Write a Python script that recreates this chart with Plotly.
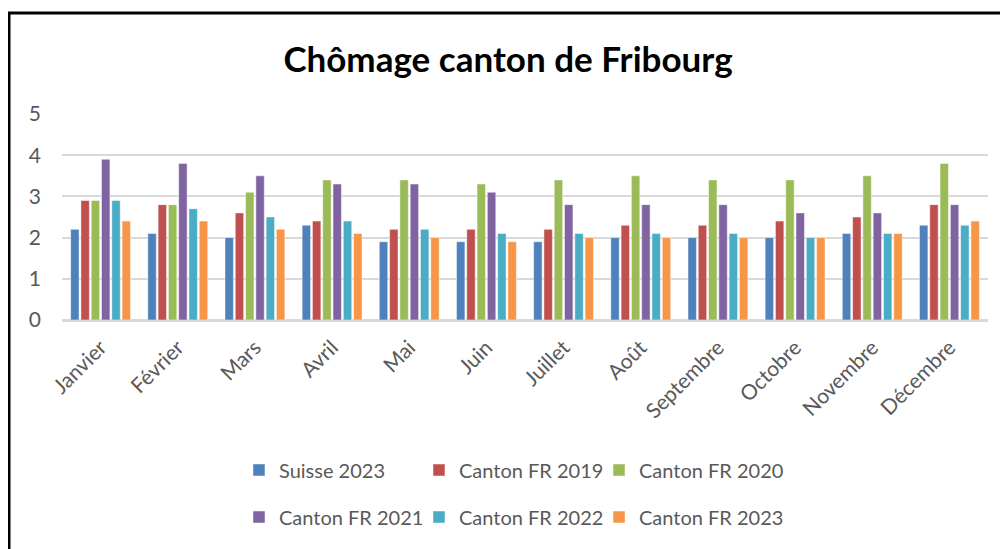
import plotly.graph_objects as go

months = ["Janvier", "Février", "Mars", "Avril", "Mai", "Juin", "Juillet",
          "Août", "Septembre", "Octobre", "Novembre", "Décembre"]

suisse_2023 = [2.2, 2.1, 2.0, 2.3, 1.9, 1.9, 1.9, 2.0, 2.0, 2.0, 2.1, 2.3]
fr_2019 = [2.9, 2.8, 2.6, 2.4, 2.2, 2.2, 2.2, 2.3, 2.3, 2.4, 2.5, 2.8]
fr_2020 = [2.9, 2.8, 3.1, 3.4, 3.4, 3.3, 3.4, 3.5, 3.4, 3.4, 3.5, 3.8]
fr_2021 = [3.9, 3.8, 3.5, 3.3, 3.3, 3.1, 2.8, 2.8, 2.8, 2.6, 2.6, 2.8]
fr_2022 = [2.9, 2.7, 2.5, 2.4, 2.2, 2.1, 2.1, 2.1, 2.1, 2.0, 2.1, 2.3]
fr_2023 = [2.4, 2.4, 2.2, 2.1, 2.0, 1.9, 2.0, 2.0, 2.0, 2.0, 2.1, 2.4]

series_names = ["Suisse 2023", "Canton FR 2019", "Canton FR 2020",
                "Canton FR 2021", "Canton FR 2022", "Canton FR 2023"]
series_values = [suisse_2023, fr_2019, fr_2020, fr_2021, fr_2022, fr_2023]
colors = ["#4F81BD", "#C0504D", "#9BBB59", "#8064A2", "#4BACC6", "#F79646"]
legend_ids = ["legend", "legend", "legend", "legend2", "legend2", "legend2"]

FONT = "Lato"
TXT = "#595959"

fig = go.Figure()
for name, vals, col, lg in zip(series_names, series_values, colors, legend_ids):
    fig.add_trace(go.Bar(
        x=months, y=vals, name=name, legend=lg,
        marker=dict(color=col, line=dict(color="rgba(255,255,255,0.6)", width=0.8)),
    ))

# invisible spacer entries so the last legend labels are not clipped
for lg in ["legend", "legend2"]:
    fig.add_trace(go.Scatter(
        x=[None], y=[None], mode="markers", name=" ", legend=lg,
        marker=dict(opacity=0, color="white"), hoverinfo="skip",
        legendrank=2000,
    ))

OFF = 8  # page body margin
W, H = 1008 - OFF, 549 - OFF
L, T = 62 - OFF, 114 - OFF
R = W - (988 - OFF)
B = 549 - 320
pw = W - L - R
ph = H - T - B


def px_x(x):
    return (x - OFF - L) / pw


def px_y(y):
    return (320 - y) / ph


fig.update_layout(
    width=W, height=H,
    margin=dict(l=L, r=R, t=T, b=B, autoexpand=False),
    paper_bgcolor="white", plot_bgcolor="white",
    barmode="group", bargap=0.2, bargroupgap=0.18,
    font=dict(family=FONT, color=TXT, size=21),
    title=dict(text="<b>Chômage canton de Fribourg</b>",
               font=dict(family=FONT, size=35, color="black"),
               x=0.5, xanchor="center", y=1 - (60 - OFF) / H, yanchor="middle"),
    xaxis=dict(showgrid=False, tickangle=-45, ticks="",
               tickfont=dict(size=21, color=TXT, family=FONT),
               showline=True, linecolor="#D9D9D9", linewidth=2,
               ticklabelstandoff=5),
    yaxis=dict(range=[0, 5], dtick=1, showgrid=True, gridcolor="#D9D9D9",
               gridwidth=2, zeroline=True, zerolinecolor="#D9D9D9", zerolinewidth=2,
               ticks="", tickfont=dict(size=21, color=TXT, family=FONT),
               ticklabelstandoff=20, showline=False),
    legend=dict(orientation="h", x=px_x(239), xanchor="left",
                y=px_y(470), yanchor="middle", entrywidth=135,
                font=dict(size=20, color=TXT, family=FONT),
                itemclick=False, bgcolor="rgba(0,0,0,0)"),
    legend2=dict(orientation="h", x=px_x(239), xanchor="left",
                 y=px_y(517), yanchor="middle", entrywidth=135,
                 font=dict(size=20, color=TXT, family=FONT),
                 itemclick=False, bgcolor="rgba(0,0,0,0)"),
    showlegend=True,
)

fig.add_shape(type="rect", xref="paper", yref="paper",
              x0=px_x(9), x1=px_x(1030), y0=px_y(580), y1=px_y(13),
              line=dict(color="black", width=3), fillcolor="rgba(0,0,0,0)",
              layer="above")

fig.write_html("out.html")
